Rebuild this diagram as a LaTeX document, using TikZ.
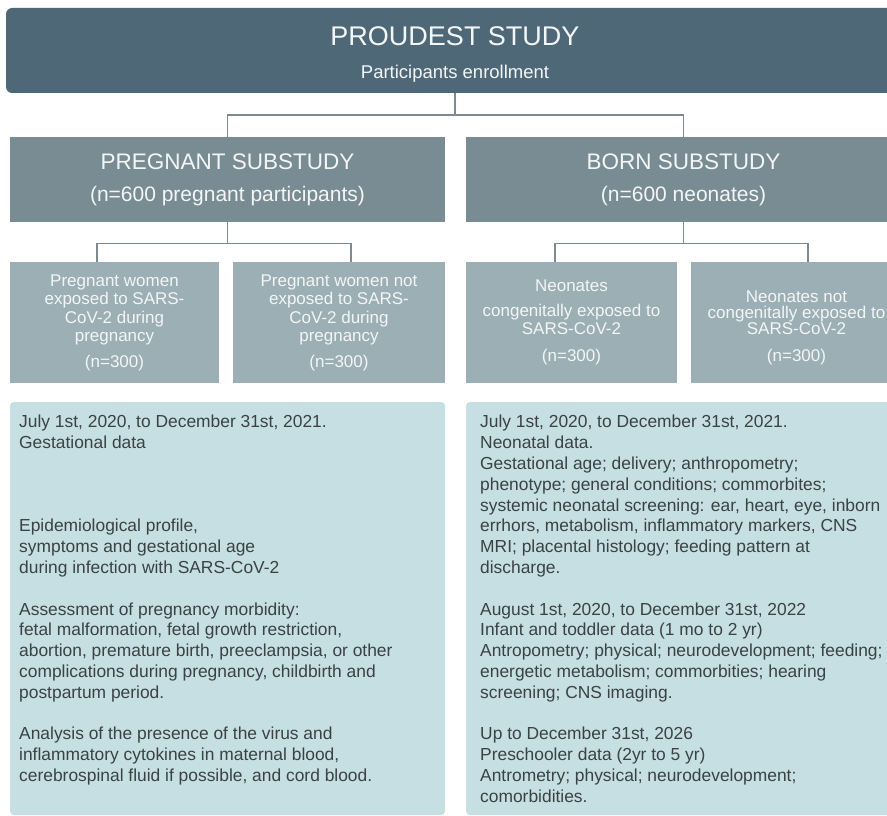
\documentclass[tikz,border=0pt]{standalone}
\usepackage{fontspec}
\setmainfont{Liberation Sans}
\usetikzlibrary{positioning, arrows.meta}

\definecolor{hdrcol}{HTML}{4F6878}
\definecolor{subcol}{HTML}{7A8C93}
\definecolor{grpcol}{HTML}{9CAFB5}
\definecolor{panelcol}{HTML}{C6DFE2}
\definecolor{linkcol}{HTML}{7D8A8F}
\definecolor{bodycol}{HTML}{3A4246}
\definecolor{lighttext}{HTML}{F2F6F7}

\begin{document}
\begin{tikzpicture}[x=1pt, y=-1pt,
  link/.style={draw=linkcol, line width=1.4pt},
  subbox/.style={fill=subcol, text=lighttext, minimum width=435pt, minimum height=85pt,
    inner sep=0pt, align=center, font=\fontsize{22.5}{32}\selectfont},
  grpbox/.style={fill=grpcol, text=lighttext, minimum height=121pt, inner sep=0pt,
    align=center, font=\fontsize{17}{18.5}\selectfont},
  panel/.style={fill=panelcol, rounded corners=4pt, minimum width=435pt,
    minimum height=413pt, inner sep=0pt},
  paneltext/.style={text=bodycol, anchor=north west, inner sep=0pt, align=left,
    font=\fontsize{17.4}{20.8}\selectfont}]
  \useasboundingbox (0,0) rectangle (887,816);
  \clip (0,0) rectangle (887,816);

  % intestazione
  \node[fill=hdrcol, rounded corners=6pt, minimum width=898pt, minimum height=85pt,
        inner sep=0pt] (hdr) at (455,50.5) {};
  \node[anchor=base, text=lighttext, font=\fontsize{27}{32}\selectfont] (title) at (455,46) {PROUDEST STUDY};
  \node[anchor=base, text=lighttext, font=\fontsize{18.5}{22}\selectfont] (enroll) at (455,79) {Participants enrollment};

  % sottostudi
  \node[subbox] (preg) at (227.5,179.5) {PREGNANT SUBSTUDY\\{\fontsize{21}{32}\selectfont (n=600 pregnant participants)}};
  \node[subbox] (born) at (683.5,179.5) {BORN SUBSTUDY\\{\fontsize{21}{32}\selectfont (n=600 neonates)}};
  \draw[link] (hdr.south) -- ++(0,22) -| (preg.north);
  \draw[link] (hdr.south) -- ++(0,22) -| (born.north);

  % gruppi
  \node[grpbox, minimum width=209pt] (expo) at (114.5,322.5)
       {Pregnant women\\exposed to SARS-\\CoV-2 during\\pregnancy\\[7pt](n=300)};
  \node[grpbox, minimum width=212pt] (nexpo) at (339,322.5)
       {Pregnant women not\\exposed to SARS-\\CoV-2 during\\pregnancy\\[7pt](n=300)};
  \node[grpbox, minimum width=211pt] (cong) at (571.5,322.5)
       {Neonates\\[6pt]congenitally exposed to\\SARS-CoV-2\\[8pt](n=300)};
  \node[grpbox, minimum width=211pt, font=\fontsize{17}{16}\selectfont] (ncong) at (796.5,322.5)
       {\rule{0pt}{22pt}Neonates not\\congenitally exposed to\\SARS-CoV-2\\[11pt](n=300)};
  \draw[link] (preg.south) -- ++(0,21) -| ([xshift=-17.5pt]expo.north);
  \draw[link] (preg.south) -- ++(0,21) -| ([xshift=12pt]nexpo.north);
  \draw[link] (born.south) -- ++(0,21) -| ([xshift=-16.5pt]cong.north);
  \draw[link] (born.south) -- ++(0,21) -| ([xshift=11.5pt]ncong.north);

  % pannelli dei dati
  \node[panel] (pregdata) at (227.5,608.5) {};
  \node[panel] (borndata) at (683.5,608.5) {};
  \node[paneltext] (pregtxt) at (19,415)
       {July 1st, 2020, to December 31st, 2021.\\
        Gestational data\\[62.4pt]
        Epidemiological profile,\\
        symptoms and gestational age\\
        during infection with SARS-CoV-2\\[20.8pt]
        Assessment of pregnancy morbidity:\\
        fetal malformation, fetal growth restriction,\\
        abortion, premature birth, preeclampsia, or other\\
        complications during pregnancy, childbirth and\\
        postpartum period.\\[20.8pt]
        Analysis of the presence of the virus and\\
        inflammatory cytokines in maternal blood,\\
        cerebrospinal fluid if possible, and cord blood.};
  \node[paneltext] (borntxt) at (480,415)
       {July 1st, 2020, to December 31st, 2021.\\
        Neonatal data.\\
        Gestational age; delivery; anthropometry;\\
        phenotype; general conditions; commorbites;\\
        systemic neonatal screening: ear, heart, eye, inborn\\
        errhors, metabolism, inflammatory markers, CNS\\
        MRI; placental histology; feeding pattern at\\
        discharge.\\[20.8pt]
        August 1st, 2020, to December 31st, 2022\\
        Infant and toddler data (1 mo to 2 yr)\\
        Antropometry; physical; neurodevelopment; feeding;\\
        energetic metabolism; commorbities; hearing\\
        screening; CNS imaging.\\[20.8pt]
        Up to December 31st, 2026\\
        Preschooler data (2yr to 5 yr)\\
        Antrometry; physical; neurodevelopment;\\
        comorbidities.};
\end{tikzpicture}
\end{document}
